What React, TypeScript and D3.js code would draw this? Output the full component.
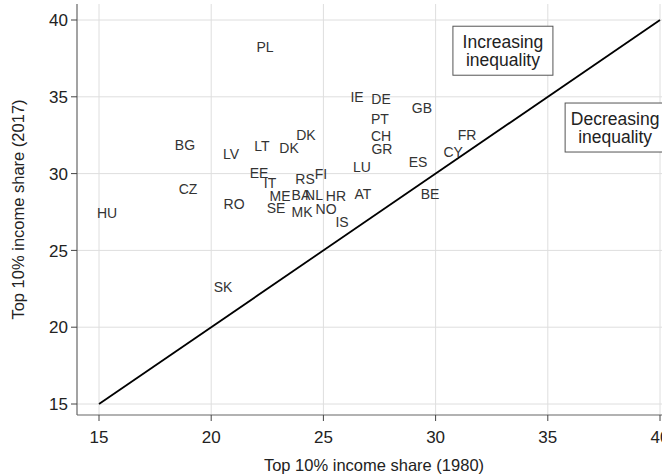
import React from 'react';
import * as d3 from 'd3';

const codes = ['PL', 'IE', 'DE', 'GB', 'PT', 'CH', 'GR', 'FR', 'CY', 'ES', 'LU', 'BE', 'AT', 'IS', 'HR', 'NO', 'NL', 'BA', 'MK', 'ME', 'SE', 'RS', 'FI', 'IT', 'EE', 'DK', 'DK', 'LT', 'LV', 'BG', 'CZ', 'RO', 'HU', 'SK'];
const share1980 = [22.4, 26.5, 27.57, 29.39, 27.52, 27.57, 27.61, 31.4, 30.78, 29.22, 26.72, 29.75, 26.76, 25.83, 25.56, 25.12, 24.58, 24.0, 24.05, 23.07, 22.89, 24.18, 24.89, 22.62, 22.13, 24.22, 23.47, 22.26, 20.88, 18.83, 18.97, 21.02, 15.36, 20.53];
const share2017 = [38.26, 34.99, 34.86, 34.27, 33.55, 32.45, 31.6, 32.51, 31.41, 30.76, 30.43, 28.67, 28.67, 26.85, 28.54, 27.7, 28.61, 28.61, 27.5, 28.54, 27.76, 29.65, 29.97, 29.39, 30.04, 32.51, 31.67, 31.8, 31.28, 31.86, 29.0, 28.02, 27.43, 22.62];
const ticks = [15, 20, 25, 30, 35, 40];
const notes = [
    { lines: ['Increasing', 'inequality'], x: 33, y: 38 },
    { lines: ['Decreasing', 'inequality'], x: 38, y: 33 },
];

const W = 662;
const H = 475;
const font = '"Liberation Sans", Arial, Helvetica, sans-serif';

const App: React.FC = () => {
    const x = d3.scaleLinear().domain([15, 40]).range([99, 660]);
    const y = d3.scaleLinear().domain([15, 40]).range([404, 20]);
    const left = 77;
    const right = 672;
    const top = 4;
    const bottom = 415;

    return (
        <div style={{ position: 'fixed', left: 0, top: 0, width: W, height: H, overflow: 'hidden', background: '#fff' }}>
            <svg width={W} height={H} style={{ display: 'block' }} fontFamily={font}>
                {/* grid */}
                {ticks.map((t) => (
                    <g key={'g' + t}>
                        <line x1={left} x2={right} y1={y(t)} y2={y(t)} stroke="#dedede" strokeWidth={1} />
                        <line x1={x(t)} x2={x(t)} y1={top} y2={bottom} stroke="#dedede" strokeWidth={1} />
                    </g>
                ))}

                {/* axes */}
                <line x1={left} x2={left} y1={top} y2={bottom} stroke="#666" strokeWidth={1.2} />
                <line x1={left} x2={right} y1={bottom} y2={bottom} stroke="#666" strokeWidth={1.2} />
                {ticks.map((t) => (
                    <g key={'t' + t}>
                        <line x1={left - 6} x2={left} y1={y(t)} y2={y(t)} stroke="#444" />
                        <text x={left - 9} y={y(t)} dy="0.36em" textAnchor="end" fontSize={17} fill="#222">
                            {t}
                        </text>
                        <line x1={x(t)} x2={x(t)} y1={bottom} y2={bottom + 6} stroke="#444" />
                        <text x={x(t)} y={bottom + 28} textAnchor="middle" fontSize={17} fill="#222">
                            {t}
                        </text>
                    </g>
                ))}

                <text x={374} y={471} textAnchor="middle" fontSize={16.5} fill="#222">
                    Top 10% income share (1980)
                </text>
                <text transform={`translate(24, ${(top + bottom) / 2}) rotate(-90)`} textAnchor="middle" fontSize={16.5} fill="#222">
                    Top 10% income share (2017)
                </text>

                {/* 45 degree line */}
                <line x1={x(15)} y1={y(15)} x2={x(40)} y2={y(40)} stroke="#000" strokeWidth={1.8} />

                {/* country labels */}
                {codes.map((c, i) => (
                    <text key={c + i} x={x(share1980[i])} y={y(share2017[i])} dy="0.36em" textAnchor="middle" fontSize={14} fill="#333">
                        {c}
                    </text>
                ))}

                {/* annotation boxes */}
                {notes.map((n) => (
                    <g key={n.lines[0]}>
                        <rect x={x(n.x) - 50} y={y(n.y) - 24.5} width={100} height={49} fill="#fff" stroke="#555" strokeWidth={1} />
                        {n.lines.map((l, j) => (
                            <text key={l} x={x(n.x)} y={y(n.y) + (j - 0.5) * 18} dy="0.36em" textAnchor="middle" fontSize={17.5} fill="#222">
                                {l}
                            </text>
                        ))}
                    </g>
                ))}
            </svg>
        </div>
    );
};

export default App;
